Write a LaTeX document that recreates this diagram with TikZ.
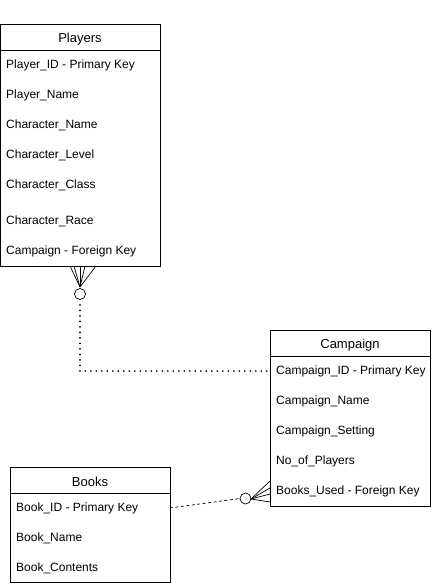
\documentclass[tikz,border=0pt]{standalone}
\usepackage{fontspec}
\setmainfont{Liberation Sans}
\begin{document}
\begin{tikzpicture}[x=1pt,y=-1pt,
  box/.style={draw=black,line width=0.8pt,fill=white},
  field/.style={anchor=west,inner sep=0pt,yshift=-1.5pt,font=\fontsize{12}{14}\selectfont},
  title/.style={inner sep=0pt,yshift=-1pt,font=\fontsize{13}{15}\selectfont},
  ln/.style={line width=0.7pt},
  dotline/.style={line width=1.8pt,line cap=round,dash pattern=on 0pt off 5.5pt},
  dashline/.style={line width=0.7pt,dash pattern=on 3pt off 2.5pt}]
\useasboundingbox (0,0) rectangle (432,587);
% Players
\draw[box] (0.5,24) rectangle (160,266);
\draw[ln] (0.5,50) -- (160,50);
\node[title] (pt) at (80,38) {Players};
\node[field] (p1) at (6,63.5) {Player\_ID - Primary Key};
\node[field] (p2) at (6,93.5) {Player\_Name};
\node[field] (p3) at (6,123.5) {Character\_Name};
\node[field] (p4) at (6,153.5) {Character\_Level};
\node[field] (p5) at (6,183.5) {Character\_Class};
\node[field] (p6) at (6,219.5) {Character\_Race};
\node[field] (p7) at (6,249.5) {Campaign - Foreign Key};
% Campaign
\draw[box] (270,330) rectangle (430,506);
\draw[ln] (270,356) -- (430,356);
\node[title] (ct) at (350,344) {Campaign};
\node[field] (c1) at (276,369.5) {Campaign\_ID - Primary Key};
\node[field] (c2) at (276,399.5) {Campaign\_Name};
\node[field] (c3) at (276,429.5) {Campaign\_Setting};
\node[field] (c4) at (276,459.5) {No\_of\_Players};
\node[field] (c5) at (276,489.5) {Books\_Used - Foreign Key};
% Books
\draw[box] (10,467) rectangle (170,582);
\draw[ln] (10,493) -- (170,493);
\node[title] (bt) at (90,481) {Books};
\node[field] (b1) at (16,506.5) {Book\_ID - Primary Key};
\node[field] (b2) at (16,536.5) {Book\_Name};
\node[field] (b3) at (16,566.5) {Book\_Contents};
% Players - Campaign connector
\coordinate (pf) at (80,287);
\foreach \xx in {70,74,80,85,96} \draw[ln] (pf) -- (\xx,266);
\node[draw,circle,ln,minimum size=11pt,inner sep=0pt] (pc) at (80,294) {};
\coordinate (pk) at (80,371);
\coordinate (ce) at (270,371);
\draw[dotline] (pc.south) ++(0,5) -- (pk) -- (ce);
% Books - Campaign connector
\coordinate (bf) at (251,499);
\foreach \yy in {481,488,494,502} \draw[ln] (bf) -- (270,\yy);
\node[draw,circle,ln,minimum size=11pt,inner sep=0pt] (bc) at (245.5,498.5) {};
\coordinate (be) at (170,508);
\draw[dashline] (be) -- (bc.west);
\end{tikzpicture}
\end{document}
